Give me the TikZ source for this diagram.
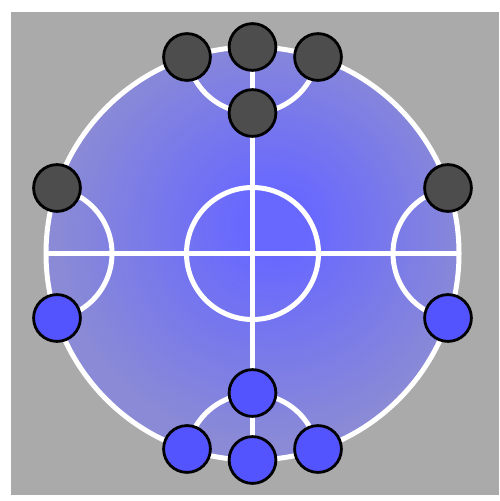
\documentclass[tikz,border=0pt]{standalone}
\definecolor{courtgray}{HTML}{AAAAAA}
\definecolor{fieldin}{HTML}{6868FF}
\definecolor{fieldout}{HTML}{8A8AD6}
\definecolor{darkpiece}{HTML}{4D4D4D}
\definecolor{bluepiece}{HTML}{5454FF}
\pgfdeclareradialshading{field_shade}{\pgfpoint{3bp}{4bp}}{%
  color(0bp)=(fieldin); color(4bp)=(fieldin); color(25bp)=(fieldout); color(50bp)=(fieldout)}
\begin{document}
\begin{tikzpicture}[
    x=0.5pt, y=-0.5pt,
    court_style/.style={fill=courtgray},
    line_style/.style={draw=white, line width=2.5pt},
    piece_style/.style={circle, draw=black, line width=1.4pt, minimum size=23.4pt, inner sep=0pt},
    dark_style/.style={piece_style, fill=darkpiece},
    blue_style/.style={piece_style, fill=bluepiece}
  ]

    \def\O{(252.5,253.5)}
    \def\R{206.5}

    \useasboundingbox (0,0) rectangle (499,501);
    \fill[court_style] (11,12) rectangle (499,495);

    % field
    \shade[shading=field_shade] \O circle[radius=\R];
    \begin{scope}
      \clip \O circle[radius=\R];
      \draw[line_style] (252.5,47) circle[radius=66];
      \draw[line_style] (252.5,460) circle[radius=66];
      \draw[line_style] (46,253.5) circle[radius=66];
      \draw[line_style] (459,253.5) circle[radius=66];
    \end{scope}
    \draw[line_style] (46,253.5) -- (459,253.5);
    \draw[line_style] (252.5,47) -- (252.5,460);
    \draw[line_style] \O circle[radius=66];
    \draw[line_style] \O circle[radius=\R];

    % dark pieces
    \node[dark_style] (dark_top) at (252.5,47) {};
    \node[dark_style] (dark_topleft) at (187,57) {};
    \node[dark_style] (dark_topright) at (318,57) {};
    \node[dark_style] (dark_inner) at (252.5,113) {};
    \node[dark_style] (dark_left) at (57,188) {};
    \node[dark_style] (dark_right) at (448,188) {};

    % blue pieces
    \node[blue_style] (blue_bottom) at (252.5,460) {};
    \node[blue_style] (blue_bottomleft) at (187,449) {};
    \node[blue_style] (blue_bottomright) at (318,449) {};
    \node[blue_style] (blue_inner) at (252.5,393) {};
    \node[blue_style] (blue_left) at (57,318) {};
    \node[blue_style] (blue_right) at (448,318) {};
\end{tikzpicture}
\end{document}
